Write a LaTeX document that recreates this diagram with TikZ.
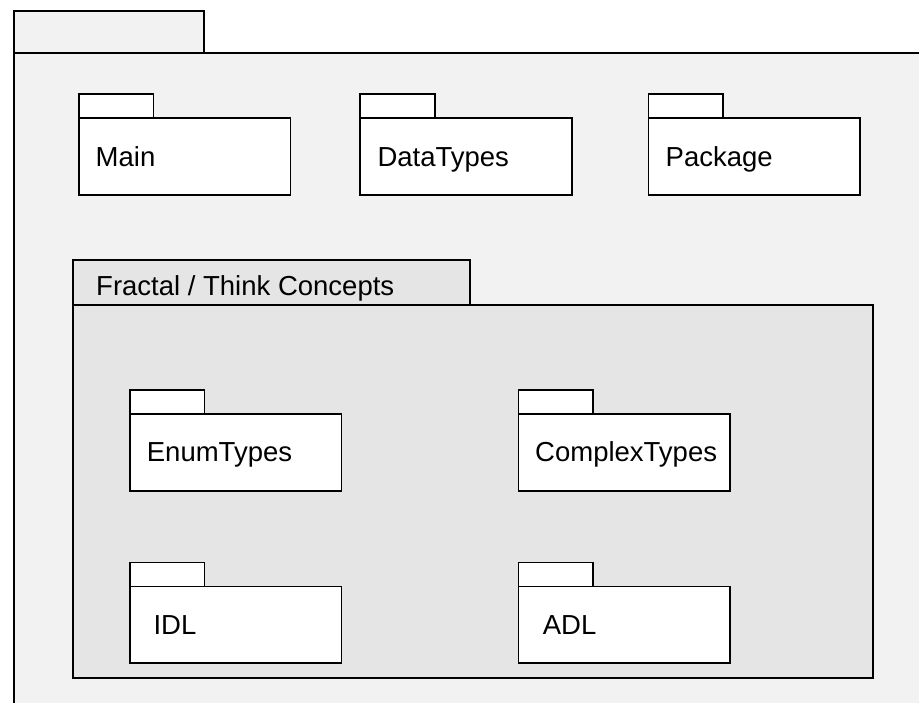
\documentclass[tikz,border=0pt]{standalone}
\usepackage{fontspec}
\setmainfont{Liberation Sans}
\definecolor{outerfill}{HTML}{F2F2F2}
\definecolor{innerfill}{HTML}{E5E5E5}
\newcommand\umlpkg[5]{%
  \node[tabbox] (#1tab) at (#2,#3) {};
  \node[bodybox] (#1) at (#2,#3+24) {};
  \node[pkglabel] (#1lbl) at (#2+#5,#3+72.7) {#4};
}
\begin{document}
\begin{tikzpicture}[x=1pt,y=-1pt,
  pkgline/.style={draw=black, line width=1.7pt},
  tabbox/.style={pkgline, fill=white, rectangle, anchor=north west, inner sep=0pt,
    minimum width=74.5pt, minimum height=24pt},
  bodybox/.style={pkgline, fill=white, rectangle, anchor=north west, inner sep=0pt,
    minimum width=211.5pt, minimum height=76.8pt},
  pkglabel/.style={anchor=base west, inner sep=0pt, font=\fontsize{27.5}{33}\selectfont},
  bigline/.style={draw=black, line width=2pt, rectangle, anchor=north west, inner sep=0pt}]
\useasboundingbox (0,0) rectangle (919,702);
\clip (0,0) rectangle (919,702);
\fill[white] (0,0) rectangle (919,702);
% outer package
\node[bigline, fill=outerfill, minimum width=189.4pt, minimum height=42.3pt] (outertab) at (13.3,10) {};
\node[bigline, fill=outerfill, minimum width=950pt, minimum height=700pt] (outer) at (13.3,52.3) {};
% top row
\umlpkg{main}{78}{93.3}{Main}{17.5}
\umlpkg{datatypes}{359.3}{93.3}{DataTypes}{18}
\umlpkg{package}{647.5}{93.3}{Package}{18}
% Fractal / Think Concepts
\node[bigline, fill=innerfill, minimum width=397.6pt, minimum height=44.7pt] (fractaltab) at (71.7,259.3) {};
\node[bigline, fill=innerfill, minimum width=800.6pt, minimum height=372.7pt] (fractal) at (71.7,304) {};
\node[pkglabel] (fractallbl) at (96,295) {Fractal / Think Concepts};
\umlpkg{enumtypes}{129}{389}{EnumTypes}{17.7}
\umlpkg{complextypes}{517.7}{389}{ComplexTypes}{17.3}
\umlpkg{idl}{129}{561.5}{IDL}{24.3}
\umlpkg{adl}{517.7}{561.5}{ADL}{25}
\end{tikzpicture}
\end{document}
